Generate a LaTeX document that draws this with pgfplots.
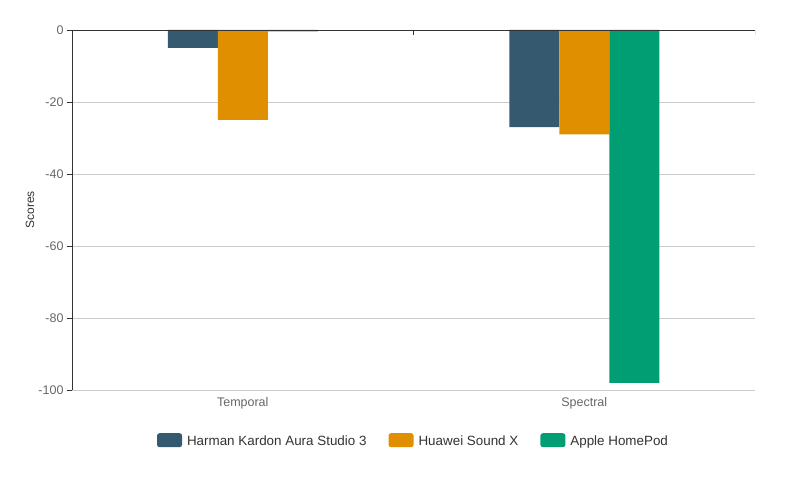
\documentclass[border=0pt]{standalone}
\usepackage{fontspec}
\setmainfont{Liberation Sans}
\usepackage{pgfplots}
\pgfplotsset{compat=1.18}
\definecolor{harman}{HTML}{35596E}
\definecolor{huawei}{HTML}{E08F00}
\definecolor{apple}{HTML}{009E72}
\definecolor{ticktext}{HTML}{666666}
\definecolor{axisdark}{HTML}{333333}
\definecolor{gridc}{HTML}{CCCCCC}
\begin{document}
\begin{tikzpicture}[x=1pt,y=1pt]
\path[use as bounding box] (0,0) rectangle (795,497);
\begin{axis}[
 at={(72pt,107pt)}, anchor=south west,
 scale only axis, width=683pt, height=360pt,
 xmin=-0.5, xmax=1.5, ymin=-100, ymax=0,
 xtick={0,1}, xticklabels={Temporal,Spectral},
 ytick={-100,-80,-60,-40,-20,0},
 ytick pos=left, xtick pos=bottom,
 axis line style={draw=none},
 ymajorgrids, grid style={gridc, line width=0.8pt},
 major x tick style={draw=none},
 major y tick style={axisdark, line width=0.8pt},
 tick align=outside, major tick length=5pt,
 ticklabel style={font=\fontsize{12.5}{14}\selectfont, text=ticktext},
 /pgf/number format/assume math mode=true,
 xticklabel style={yshift=1pt},
 ylabel=Scores,
 ylabel style={at={(axis description cs:-0.0615,0.5)}, anchor=center, font=\fontsize{12}{14}\selectfont, text=axisdark},
 ybar, bar width=50pt,
 legend columns=3,
 legend style={at={(0.5,-0.1417)}, anchor=center, draw=none, font=\fontsize{13.4}{15}\selectfont, text=axisdark,
   /tikz/every odd column/.append style={column sep=3pt},
   /tikz/every even column/.append style={column sep=20pt}},
 legend image code/.code={\fill[#1, rounded corners=2.5pt] (0pt,-6pt) rectangle (25pt,8pt);},
]
\addplot[fill=harman, draw=none, bar shift=-50pt] coordinates {(0,-5) (1,-27)};
\addlegendentry{Harman Kardon Aura Studio 3}
\addplot[fill=huawei, draw=none, bar shift=0pt] coordinates {(0,-25) (1,-29)};
\addlegendentry{Huawei Sound X}
\addplot[fill=apple, draw=none, bar shift=50pt] coordinates {(0,-0.4) (1,-98)};
\addlegendentry{Apple HomePod}
\draw[axisdark, line width=0.8pt] (axis cs:-0.5,-100) -- (axis cs:-0.5,0) -- (axis cs:1.5,0);
\draw[axisdark, line width=0.8pt] (axis cs:-0.5,0) -- ++(0pt,-5pt);
\draw[axisdark, line width=0.8pt] (axis cs:0.5,0) -- ++(0pt,-5pt);
\draw[axisdark, line width=0.8pt] (axis cs:1.5,0) -- ++(0pt,-5pt);
\end{axis}
\end{tikzpicture}
\end{document}
